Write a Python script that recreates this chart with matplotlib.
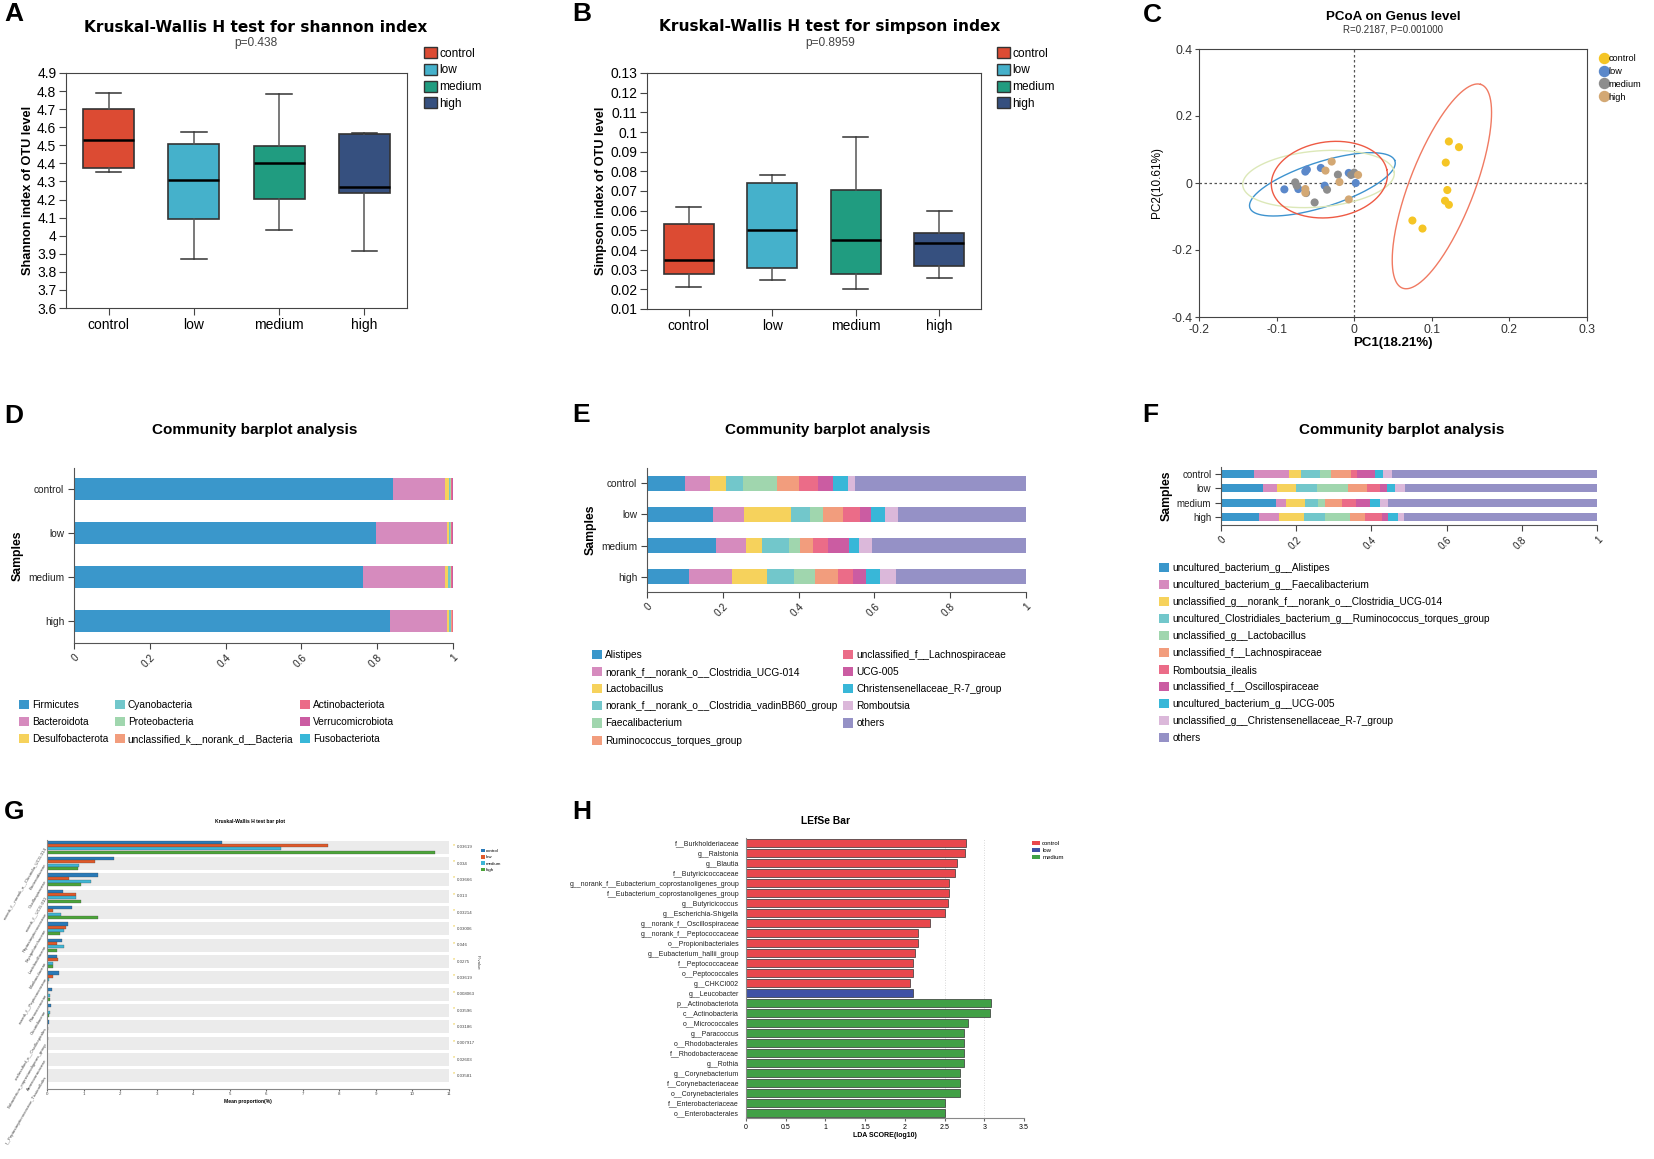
import numpy as np
import matplotlib.pyplot as plt
from matplotlib.patches import Patch
from matplotlib.lines import Line2D

plt.rcParams['font.family'] = ['Liberation Sans', 'DejaVu Sans']

# ---------------- data ----------------
groups = ['control', 'low', 'medium', 'high']
box_colors = ['#DC4B33', '#45B1CB', '#209C80', '#36507F']

# whisker low, q1, median, q3, whisker high
shannon = [[4.35, 4.375, 4.53, 4.70, 4.79],
           [3.87, 4.09, 4.31, 4.505, 4.575],
           [4.03, 4.205, 4.40, 4.495, 4.785],
           [3.915, 4.235, 4.27, 4.565, 4.57]]
simpson = [[0.021, 0.028, 0.035, 0.053, 0.062],
           [0.025, 0.031, 0.050, 0.074, 0.078],
           [0.020, 0.028, 0.045, 0.0705, 0.0975],
           [0.026, 0.032, 0.0435, 0.0485, 0.060]]

# PCoA scores
ctrl_pc1 = [0.122, 0.135, 0.118, 0.120, 0.117, 0.122, 0.075, 0.088]
ctrl_pc2 = [0.124, 0.107, 0.061, -0.021, -0.053, -0.065, -0.112, -0.136]
low_pc1 = [-0.090, -0.063, -0.061, -0.043, -0.038, -0.072, -0.007, 0.002]
low_pc2 = [-0.019, 0.034, 0.040, 0.045, -0.008, -0.018, 0.030, 0.000]
med_pc1 = [-0.076, -0.074, -0.062, -0.051, -0.035, -0.021, -0.004, 0.000]
med_pc2 = [0.002, -0.008, -0.030, -0.058, -0.020, 0.025, 0.024, 0.031]
high_pc1 = [-0.029, -0.037, 0.005, -0.019, -0.063, -0.063, -0.007]
high_pc2 = [0.064, 0.037, 0.024, 0.003, -0.018, -0.029, -0.049]
pcoa_colors = ['#F5C525', '#5B88CA', '#8D8D8D', '#D3A874']
# confidence ellipses: centre, half axis 1, half axis 2, colour
ellipses = [((0.113, -0.010), (0.0498, 0.3045), (0.0402, -0.0268), '#F07A62'),
            ((-0.041, -0.004), (0.0932, 0.0716), (0.0116, -0.0617), '#3E93CF'),
            ((-0.046, 0.012), (0.0976, 0.0199), (0.0041, -0.0832), '#DCE8B8'),
            ((-0.032, 0.010), (0.074, 0.0299), (0.0109, -0.1104), '#EE5A44')]

pal = ['#3A97CB', '#D68BBE', '#F6D25C', '#72C7CB', '#A0D6AE', '#F29D7D',
       '#EB6C88', '#CB5CA2', '#38B7D8', '#DBB8DA', '#9591C6']

phylum_names = ['Firmicutes', 'Bacteroidota', 'Desulfobacterota', 'Cyanobacteria',
                'Proteobacteria', 'unclassified_k__norank_d__Bacteria',
                'Actinobacteriota', 'Verrucomicrobiota', 'Fusobacteriota']
phylum_vals = [[0.842, 0.797, 0.763, 0.833],
               [0.136, 0.186, 0.215, 0.150],
               [0.011, 0.006, 0.009, 0.007],
               [0.004, 0.004, 0.005, 0.004],
               [0.002, 0.002, 0.003, 0.002],
               [0.001, 0.001, 0.001, 0.001],
               [0.002, 0.002, 0.002, 0.002],
               [0.001, 0.001, 0.001, 0.001],
               [0.001, 0.001, 0.001, 0.000]]

genus_names = ['Alistipes', 'norank_f__norank_o__Clostridia_UCG-014', 'Lactobacillus',
               'norank_f__norank_o__Clostridia_vadinBB60_group', 'Faecalibacterium',
               'Ruminococcus_torques_group', 'unclassified_f__Lachnospiraceae', 'UCG-005',
               'Christensenellaceae_R-7_group', 'Romboutsia', 'others']
genus_vals = [[0.101, 0.174, 0.181, 0.111],
              [0.065, 0.082, 0.080, 0.113],
              [0.042, 0.125, 0.043, 0.092],
              [0.045, 0.049, 0.070, 0.072],
              [0.090, 0.035, 0.030, 0.056],
              [0.058, 0.051, 0.034, 0.059],
              [0.050, 0.047, 0.040, 0.041],
              [0.039, 0.027, 0.055, 0.033],
              [0.040, 0.038, 0.026, 0.037],
              [0.018, 0.034, 0.034, 0.043],
              [0.452, 0.338, 0.407, 0.343]]

species_names = ['uncultured_bacterium_g__Alistipes', 'uncultured_bacterium_g__Faecalibacterium',
                 'unclassified_g__norank_f__norank_o__Clostridia_UCG-014',
                 'uncultured_Clostridiales_bacterium_g__Ruminococcus_torques_group',
                 'unclassified_g__Lactobacillus', 'unclassified_f__Lachnospiraceae',
                 'Romboutsia_ilealis', 'unclassified_f__Oscillospiraceae',
                 'uncultured_bacterium_g__UCG-005',
                 'unclassified_g__Christensenellaceae_R-7_group', 'others']
species_vals = [[0.088, 0.112, 0.146, 0.100],
                [0.093, 0.038, 0.026, 0.053],
                [0.033, 0.050, 0.052, 0.067],
                [0.050, 0.054, 0.034, 0.056],
                [0.028, 0.083, 0.019, 0.066],
                [0.053, 0.050, 0.045, 0.041],
                [0.017, 0.035, 0.036, 0.044],
                [0.047, 0.019, 0.038, 0.018],
                [0.022, 0.023, 0.028, 0.027],
                [0.024, 0.026, 0.019, 0.016],
                [0.545, 0.510, 0.557, 0.512]]

# Kruskal-Wallis bar plot (mean proportion %), per taxon: group1..group4
kw_names = ['norank_f__norank_o__Clostridia_UCG-014', 'Bacteroidaceae', 'Oscillospiraceae',
            'norank_f__UCG-010', 'Peptostreptococcaceae', 'Erysipelotrichaceae',
            'Lactobacillaceae', 'Muribaculaceae', 'norank_f__Peptococcaceae',
            'Planococcaceae', 'Clostridiaceae', 'unclassified_o__Oscillospirales',
            'Eubacterium_coprostanoligenes_group', 'Anaerovoracaceae',
            'f__Peptostreptococcaceae_Tissierellales']
kw_vals = [[4.78, 7.70, 6.40, 10.61],
           [1.82, 1.31, 0.88, 0.85],
           [1.40, 0.61, 1.20, 0.93],
           [0.45, 0.78, 0.78, 0.93],
           [0.68, 0.16, 0.37, 1.39],
           [0.58, 0.52, 0.47, 0.36],
           [0.41, 0.26, 0.47, 0.28],
           [0.26, 0.30, 0.16, 0.16],
           [0.33, 0.17, 0.05, 0.03],
           [0.14, 0.03, 0.09, 0.08],
           [0.12, 0.04, 0.07, 0.05],
           [0.05, 0.01, 0.02, 0.01],
           [0.02, 0.01, 0.01, 0.01],
           [0.01, 0.005, 0.005, 0.005],
           [0.01, 0.005, 0.005, 0.005]]
kw_p = ['0.03619', '0.034', '0.03666', '0.013', '0.03214', '0.03006', '0.046', '0.0275',
        '0.03619', '0.008063', '0.03596', '0.03186', '0.007917', '0.02603', '0.03581']
kw_colors = ['#2A7AB8', '#E0592A', '#3FB6D5', '#4CA43A']

lefse_names = ['f__Burkholderiaceae', 'g__Ralstonia', 'g__Blautia', 'f__Butyricicoccaceae',
               'g__norank_f__Eubacterium_coprostanoligenes_group',
               'f__Eubacterium_coprostanoligenes_group', 'g__Butyricicoccus',
               'g__Escherichia-Shigella', 'g__norank_f__Oscillospiraceae',
               'g__norank_f__Peptococcaceae', 'o__Propionibacteriales',
               'g__Eubacterium_hallii_group', 'f__Peptococcaceae', 'o__Peptococcales',
               'g__CHKCI002', 'g__Leucobacter', 'p__Actinobacteriota', 'c__Actinobacteria',
               'o__Micrococcales', 'g__Paracoccus', 'o__Rhodobacterales',
               'f__Rhodobacteraceae', 'g__Rothia', 'g__Corynebacterium',
               'f__Corynebacteriaceae', 'o__Corynebacteriales', 'f__Enterobacteriaceae',
               'o__Enterobacterales']
lefse_lda = [2.77, 2.76, 2.66, 2.63, 2.55, 2.55, 2.54, 2.50, 2.32, 2.17, 2.16, 2.13, 2.10,
             2.10, 2.06, 2.10, 3.08, 3.07, 2.80, 2.74, 2.74, 2.74, 2.74, 2.70, 2.70, 2.69,
             2.50, 2.50]
lefse_group = ['control'] * 15 + ['low'] + ['medium'] * 12
lefse_colors = {'control': '#E8474C', 'low': '#3F51A5', 'medium': '#41A046'}

# ---------------- figure ----------------
W, H = 1654, 1159
fig = plt.figure(figsize=(W / 100, H / 100), dpi=100)


def ax_px(l, t, r, b):
    return fig.add_axes([l / W, 1 - b / H, (r - l) / W, (b - t) / H])


def txt(x, y, s, **kw):
    kw.setdefault('ha', 'center')
    kw.setdefault('va', 'center')
    fig.text(x / W, 1 - y / H, s, **kw)


def fleg(handles, x, y, **kw):
    fig.legend(handles=handles, loc='upper left', bbox_to_anchor=(x / W, 1 - y / H),
               frameon=False, borderaxespad=0, borderpad=0, **kw)


for letter, x, y in [('A', 14, 14), ('B', 582, 14), ('C', 1152, 15), ('D', 14, 416),
                     ('E', 581, 415), ('F', 1150, 415), ('G', 14, 812), ('H', 582, 812)]:
    txt(x, y, letter, fontsize=19, fontweight='bold')


# ---- A / B box plots ----
def boxpanel(box, stats_list, ylim, yticks, ylabel, title, ptxt, tx, legx):
    ax = ax_px(*box)
    stats = [dict(whislo=s[0], q1=s[1], med=s[2], q3=s[3], whishi=s[4], label=g)
             for s, g in zip(stats_list, groups)]
    bp = ax.bxp(stats, positions=[1, 2, 3, 4], widths=0.6, patch_artist=True,
                showfliers=False, capwidths=0.3,
                boxprops=dict(edgecolor='#333333', linewidth=1.2),
                medianprops=dict(color='black', linewidth=1.8),
                whiskerprops=dict(color='#555555', linewidth=1.1),
                capprops=dict(color='#333333', linewidth=1.1))
    for patch, c in zip(bp['boxes'], box_colors):
        patch.set_facecolor(c)
    ax.set_xlim(0.5, 4.5)
    ax.set_ylim(*ylim)
    ax.set_yticks(yticks)
    ax.set_yticklabels([f'{round(v, 3):g}' for v in yticks])
    ax.tick_params(direction='out', length=5, labelsize=10, color='#444444', pad=2)
    for s in ax.spines.values():
        s.set_color('#444444')
    ax.set_ylabel(ylabel, fontsize=9.2, fontweight='bold', labelpad=2)
    txt(tx, 27, title, fontsize=11.1, fontweight='bold', family='DejaVu Sans')
    txt(tx, 43, ptxt, fontsize=8.6, color='#444444')
    fleg([Patch(facecolor=c, edgecolor='#333333', label=g) for c, g in zip(box_colors, groups)],
         legx, 47, fontsize=8.6, handlelength=1.05, handleheight=1.05, labelspacing=0.35,
         handletextpad=0.25)


boxpanel((66, 73, 407, 308), shannon, (3.6, 4.9), np.arange(3.6, 4.91, 0.1),
         'Shannon index of OTU level', 'Kruskal-Wallis H test for shannon index',
         'p=0.438', 256, 424)
boxpanel((647, 73, 981, 309), simpson, (0.01, 0.13), np.arange(0.01, 0.131, 0.01),
         'Simpson index of OTU level', 'Kruskal-Wallis H test for simpson index',
         'p=0.8959', 830, 997)

# ---- C PCoA ----
ax = ax_px(1199, 49, 1587, 317)
t = np.linspace(0, 2 * np.pi, 300)
for (cx, cy), (ux, uy), (vx, vy), c in ellipses:
    ax.plot(cx + ux * np.cos(t) + vx * np.sin(t), cy + uy * np.cos(t) + vy * np.sin(t),
            color=c, lw=1.0, zorder=2)
for xs, ys, c in zip([ctrl_pc1, low_pc1, med_pc1, high_pc1],
                     [ctrl_pc2, low_pc2, med_pc2, high_pc2], pcoa_colors):
    ax.scatter(xs, ys, s=34, color=c, edgecolors='none', zorder=3)
ax.axhline(0, color='#555555', ls=(0, (2, 2)), lw=0.9, zorder=1)
ax.axvline(0, color='#555555', ls=(0, (2, 2)), lw=0.9, zorder=1)
ax.set_xlim(-0.2, 0.3)
ax.set_ylim(-0.4, 0.4)
ax.set_xticks([-0.2, -0.1, 0, 0.1, 0.2, 0.3])
ax.set_xticklabels(['-0.2', '-0.1', '0', '0.1', '0.2', '0.3'])
ax.set_yticks([-0.4, -0.2, 0, 0.2, 0.4])
ax.set_yticklabels(['-0.4', '-0.2', '0', '0.2', '0.4'])
ax.tick_params(direction='out', length=3, labelsize=8.8, color='#444444', labelcolor='#333333',
               pad=2)
for s in ax.spines.values():
    s.set_color('#444444')
    s.set_linewidth(0.8)
ax.set_xlabel('PC1(18.21%)', fontsize=9.5, fontweight='bold', labelpad=1)
ax.set_ylabel('PC2(10.61%)', fontsize=8.5, labelpad=6)
txt(1393, 17, 'PCoA on Genus level', fontsize=9.6, fontweight='bold')
txt(1393, 29, 'R=0.2187, P=0.001000', fontsize=7, color='#333333')
fleg([Line2D([], [], marker='o', ls='', markersize=7.2, color=c, label=g)
      for c, g in zip(pcoa_colors, groups)], 1600, 54, fontsize=6.6,
     handlelength=0.8, handletextpad=0.15, labelspacing=0.42)


# ---- D / E / F community bar plots ----
def community(box, names, vals, ylim, height, tx, legx, legy, ncol, colsp, lsp, tfs):
    ax = ax_px(*box)
    left = np.zeros(4)
    for v, c in zip(vals, pal):
        ax.barh(range(4), v, left=left, height=height, color=c, linewidth=0)
        left += np.array(v)
    ax.set_xlim(0, 1)
    ax.set_ylim(*ylim)
    ax.set_yticks(range(4))
    ax.set_yticklabels(groups)
    ax.set_xticks([0, 0.2, 0.4, 0.6, 0.8, 1])
    ax.set_xticklabels(['0', '0.2', '0.4', '0.6', '0.8', '1'], rotation=45, ha='right',
                       rotation_mode='anchor')
    ax.tick_params(direction='out', length=4, labelsize=tfs, color='#444444',
                   labelcolor='#222222', pad=3)
    ax.spines['top'].set_visible(False)
    ax.spines['right'].set_visible(False)
    ax.spines['left'].set_color('#555555')
    ax.spines['bottom'].set_color('#555555')
    ax.set_ylabel('Samples', fontsize=8.8, fontweight='bold', labelpad=3)
    txt(tx, 430, 'Community barplot analysis', fontsize=11, fontweight='bold')
    fleg([Patch(facecolor=c, label=n) for c, n in zip(pal, names)], legx, legy,
         ncol=ncol, fontsize=7.3, handlelength=1.0, handleheight=1.0, labelspacing=lsp,
         handletextpad=0.3, columnspacing=colsp)
    return ax


community((74, 468, 453, 643), phylum_names, phylum_vals, (3.5, -0.48), 0.49,
          255, 19, 700, 3, 0.6, 0.68, 7.3)
community((647, 468, 1026, 592), genus_names, genus_vals, (3.48, -0.48), 0.48,
          828, 592, 650, 2, 0.55, 0.7, 7.3)
community((1221, 467, 1597, 525), species_names, species_vals, (3.55, -0.49), 0.55,
          1402, 1159, 563, 1, 1.0, 0.69, 7.0)

# ---- G Kruskal-Wallis bar plot ----
ax = ax_px(47, 840, 449, 1089)
n = len(kw_names)
y = np.arange(n)
ax.barh(y, 11, height=0.79, color='#EBEBEB', zorder=0)
offs = [-0.3, -0.1, 0.1, 0.3]
for j in range(4):
    ax.barh(y + offs[j], [r[j] for r in kw_vals], height=0.19, color=kw_colors[j],
            edgecolor='#444444', linewidth=0.2, zorder=2)
ax.set_xlim(0, 11)
ax.set_ylim(14.8, -0.44)
ax.set_xticks(range(12))
ax.set_yticks(y)
ax.set_yticklabels(kw_names, rotation=60, ha='right', rotation_mode='anchor',
                   fontsize=3.2, color='#444444')
ax.tick_params(axis='x', labelsize=3.2, length=1.5, color='#666666', labelcolor='#444444',
               pad=1)
ax.tick_params(axis='y', length=0, pad=1)
ax.spines['top'].set_visible(False)
ax.spines['right'].set_visible(False)
ax.spines['left'].set_color('#888888')
ax.spines['bottom'].set_color('#888888')
ax.set_xlabel('Mean proportion(%)', fontsize=3.6, fontweight='bold', labelpad=1.5)
tr = ax.get_yaxis_transform()
for yi, p in zip(y, kw_p):
    ax.text(1.01, yi - 0.12, '*', transform=tr, fontsize=3.8, color='#E8C020',
            ha='left', va='center')
    ax.text(1.02, yi, p, transform=tr, fontsize=3.2, color='#444444', ha='left', va='center')
txt(250, 822, 'Kruskal-Wallis H test bar plot', fontsize=3.6, fontweight='bold')
txt(478, 962, 'P-value', fontsize=3.2, rotation=-90, color='#444444')
fleg([Patch(facecolor=c, label=g) for c, g in zip(kw_colors, groups)], 481, 849,
     fontsize=3.2, handlelength=0.8, handleheight=0.8, labelspacing=0.45, handletextpad=0.3)

# ---- H LEfSe ----
ax = ax_px(746, 838, 1024, 1118)
m = len(lefse_names)
ax.barh(range(m), lefse_lda, height=0.8, color=[lefse_colors[g] for g in lefse_group],
        edgecolor='#333333', linewidth=0.5, zorder=2)
for gx in [2.5, 3.0, 3.5]:
    ax.axvline(gx, color='#CCCCCC', ls=(0, (1, 2)), lw=0.6, zorder=1)
ax.set_xlim(0, 3.5)
ax.set_ylim(m - 0.5, -0.5)
ax.set_yticks(range(m))
ax.set_yticklabels(lefse_names, fontsize=5, color='#222222')
ax.set_xticks(np.arange(0, 3.51, 0.5))
ax.set_xticklabels(['0', '0.5', '1', '1.5', '2', '2.5', '3', '3.5'])
ax.tick_params(axis='x', labelsize=5, length=2, color='#666666', pad=2)
ax.tick_params(axis='y', length=0, pad=5)
ax.spines['top'].set_visible(False)
ax.spines['right'].set_visible(False)
ax.spines['left'].set_color('#888888')
ax.spines['bottom'].set_color('#888888')
ax.set_xlabel('LDA SCORE(log10)', fontsize=5, fontweight='bold', labelpad=1)
txt(826, 821, 'LEfSe Bar', fontsize=7.4, fontweight='bold')
fleg([Patch(facecolor=lefse_colors[g], label=g) for g in ['control', 'low', 'medium']],
     1032, 841, fontsize=4.3, handlelength=1.3, handleheight=0.7, labelspacing=0.3,
     handletextpad=0.4)

fig.savefig('out.png', dpi=100, facecolor='white')
